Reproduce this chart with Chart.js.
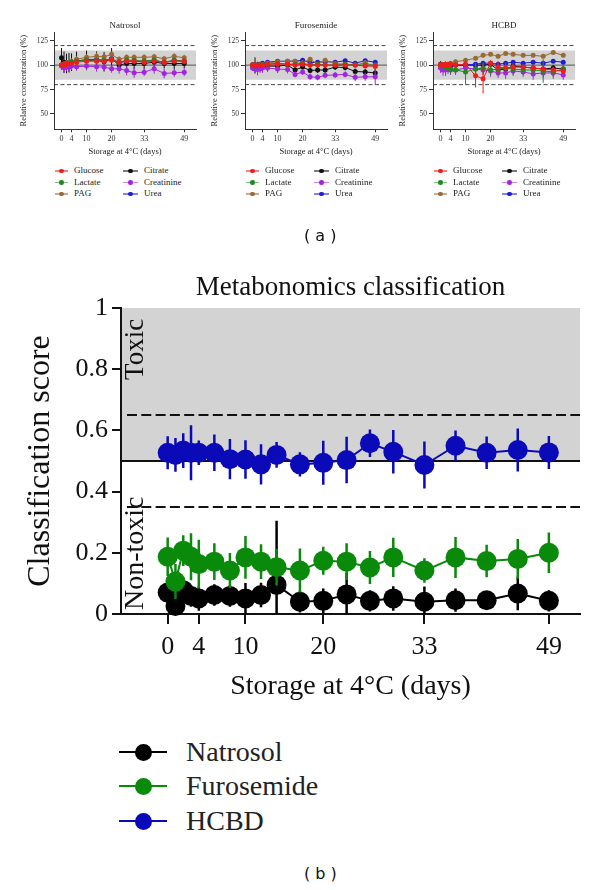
<!DOCTYPE html>
<html><head><meta charset="utf-8">
<script src="https://cdn.jsdelivr.net/npm/chart.js@4.4.1/dist/chart.umd.min.js"></script>
<style>
body{margin:0;background:#fff;width:600px;height:890px;position:relative;overflow:hidden;}
canvas{position:absolute;}
.it{position:absolute;font-family:"Liberation Serif",serif;color:#222;white-space:nowrap;}
.it .ln{position:absolute;}
.it .dt{position:absolute;border-radius:50%;}
.it .tx{position:absolute;}
.cap{position:absolute;font-family:"DejaVu Sans",sans-serif;font-size:16px;color:#111;white-space:pre;}
</style></head><body>
<canvas id="p0" width="200" height="160" style="left:0px;top:0px"></canvas>
<canvas id="p1" width="200" height="160" style="left:191px;top:0px"></canvas>
<canvas id="p2" width="200" height="160" style="left:379px;top:0px"></canvas>
<canvas id="cb" width="600" height="445" style="left:0px;top:265px"></canvas>
<div id="legends"></div>
<div class="cap" style="left:304px;top:226px">( a )</div>
<div class="cap" style="left:304px;top:864px">( b )</div>
<script>
// ---------- data: bottom panel ----------
const bottomDays = [0,1,2,3,4,6,8,10,12,14,17,20,23,26,29,33,37,41,45,49];
const tickDays = [0,4,10,20,33,49];
const scoreTicks = [0,0.2,0.4,0.6,0.8,1];
const groups = ['Natrosol','Furosemide','HCBD'];
const natrosolScore = [0.07,0.026,0.078,0.059,0.051,0.062,0.059,0.051,0.062,0.095,0.04,0.043,0.064,0.043,0.051,0.04,0.045,0.045,0.067,0.043];
const natrosolErr   = [0.035,0.03,0.035,0.035,0.04,0.035,0.035,0.05,0.04,0.21,0.035,0.04,0.07,0.035,0.04,0.05,0.038,0.03,0.055,0.035];
const furosemideScore = [0.187,0.106,0.207,0.187,0.163,0.171,0.142,0.185,0.171,0.153,0.142,0.174,0.171,0.152,0.185,0.142,0.185,0.173,0.18,0.2];
const furosemideErr   = [0.063,0.057,0.05,0.077,0.08,0.06,0.057,0.07,0.057,0.06,0.072,0.046,0.06,0.054,0.064,0.04,0.067,0.053,0.065,0.066];
const hcbdScore = [0.527,0.52,0.534,0.527,0.527,0.527,0.506,0.505,0.489,0.52,0.489,0.494,0.503,0.558,0.53,0.487,0.55,0.527,0.536,0.528];
const hcbdErr   = [0.054,0.055,0.057,0.09,0.04,0.06,0.066,0.063,0.066,0.042,0.04,0.072,0.076,0.045,0.071,0.077,0.05,0.053,0.07,0.054];

// ---------- data: top panels (relative concentration, %) ----------
const topDays = [0,1,2,3,4,6,10,14,17,20,23,26,29,33,37,41,45,49];
const concTicks = [50,75,100,125];
const metabolites = ['Glucose','Lactate','PAG','Citrate','Creatinine','Urea'];

const natGlucose    = [100,101,101,102,102,103,104,104,104,105,103,104,104,103,104,103,104,104];
const natLactate    = [100,101,102,102,103,104,105,105,105,106,103,105,105,104,105,103,105,104];
const natPAG        = [100,101,102,103,104,106,108,109,108.5,111,106,108,108,108,108.5,106.5,109,107.5];
const natCitrate    = [107.5,103,101.7,102.4,103,104.8,104.8,105,103.4,106.5,100,101.7,101.7,101.7,103,101.7,101.7,101.7];
const natCreatinine = [99,97.3,98,98,99,98.3,99,98.3,98,96.2,96.2,94.5,92.1,92.8,96.2,91.5,92.1,92.8];
const natUrea       = [100,100.7,101.5,102,103,104,105.8,105.8,105,106.5,102.4,104,104,104,105,102.4,105,104];
const natGlucoseErr    = [2,3,3,2,3,3,2,3,3,2,3,2,3,3,2,3,2,3];
const natLactateErr    = [2,3,2,3,3,2,3,3,2,3,3,3,2,3,3,2,3,3];
const natPAGErr        = [2,3,3,3,3,3,3,4,3,3,3,3,3,3,3,3,3,3];
const natCitrateErr    = [10,11,10,10,9,9,10,9,10,11,6,7,6,6,6,5,6,5];
const natCreatinineErr = [4,5,4,5,4,4,4,5,4,4,5,5,5,4,5,5,4,4];
const natUreaErr       = [2,2,3,3,3,3,3,3,3,3,3,3,3,3,3,3,3,3];

const furGlucose    = [100,100,100,100,100,101,101,101,100,101,100,100,100,100,100,100,99,99];
const furLactate    = [100,99,100,100,101,101,102,101,101,102,100,101,100,100,101,100,100,100];
const furPAG        = [100,100,100,100,100.5,102,103.5,104,104,102.5,106,101,105,101.5,101,100,102.5,98.5];
const furCitrate    = [100,100,99.5,99,99,99,99,100,95,98,94.5,95,95,98,97.5,93.5,93,92];
const furCreatinine = [97,96,95.5,96,97,97,96,95.5,90.5,93,88,87.5,89.5,90,90.5,87.5,88,88];
const furUrea       = [100,100,100,101,102,103,104,104,104,105,102.4,103,103.5,103,104.5,102,104.5,103];
const furGlucoseErr    = [2,2,2,2,2,2,2,2,2,2,2,2,2,2,2,2,2,2];
const furLactateErr    = [2,3,2,2,2,2,2,2,2,2,2,2,2,2,2,2,2,2];
const furPAGErr        = [2,2,2,2,2,2,2,2,2,2,2,2,2,2,2,2,2,2];
const furCitrateErr    = [3,8,4,3,3,3,3,3,3,3,3,3,3,3,3,3,3,5];
const furCreatinineErr = [3,5,6,4,5,4,4,4,3,3,3,3,3,3,3,4,4,8];
const furUreaErr       = [2,2,2,2,2,2,2,2,2,2,2,2,2,2,2,2,2,2];

const hcbGlucose    = [100,100,101,100,101,100,101,89,86,102,98,97,98,98,97,96,95,94];
const hcbLactate    = [100,99,98,97,96,95,93,96,97,95,96,97,96,95,95,94,93,96];
const hcbPAG        = [100,100,100,101,102,103.5,105,107,110,111,109,112,111,110,110,109,113,110];
const hcbCitrate    = [101,99,100,99,99,100,100,100,100,101,95,96,99,98,97,96,97,96];
const hcbCreatinine = [97,95,95,96,95,95,97,96,95,94,92,92,94,93,91,92,92,90];
const hcbUrea       = [100,98,99,99,100,100,100,101,102,102,101,102,103,102,103,102,104,103];
const hcbGlucoseErr    = [3,3,3,3,3,3,3,12,15,3,6,4,3,3,3,3,3,3];
const hcbLactateErr    = [3,4,4,4,5,4,13,5,6,5,6,5,6,5,6,12,5,4];
const hcbPAGErr        = [2,2,2,2,2,2,2,2,2,2,2,2,2,2,2,2,2,2];
const hcbCitrateErr    = [3,3,3,3,3,3,3,3,3,3,4,4,3,4,3,3,3,3];
const hcbCreatinineErr = [5,6,6,5,5,5,5,6,5,6,5,6,5,5,6,5,6,5];
const hcbUreaErr       = [2,2,2,2,2,2,2,2,2,2,2,2,2,2,2,2,2,2];

const panels = [
  {id:'p0', title:'Natrosol',   vals:[natGlucose,natLactate,natPAG,natCitrate,natCreatinine,natUrea], errs:[natGlucoseErr,natLactateErr,natPAGErr,natCitrateErr,natCreatinineErr,natUreaErr]},
  {id:'p1', title:'Furosemide', vals:[furGlucose,furLactate,furPAG,furCitrate,furCreatinine,furUrea], errs:[furGlucoseErr,furLactateErr,furPAGErr,furCitrateErr,furCreatinineErr,furUreaErr]},
  {id:'p2', title:'HCBD',       vals:[hcbGlucose,hcbLactate,hcbPAG,hcbCitrate,hcbCreatinine,hcbUrea], errs:[hcbGlucoseErr,hcbLactateErr,hcbPAGErr,hcbCitrateErr,hcbCreatinineErr,hcbUreaErr]}
];

// ---------- styles ----------
const SERIF = '"Liberation Serif", "Times New Roman", serif';
const metColors = ['#ee1c1c','#1f8a1f','#9a6a34','#111111','#a324e0','#1f1fd2'];
const groupColors = ['#000000','#0a8a0a','#0a0ab8'];

// ---------- plugin: bands, reference lines, labels, error bars ----------
const decor = {
  id:'decor',
  beforeDraw(chart, args, o){
    const {ctx, chartArea:a, scales:{y}} = chart;
    ctx.save();
    (o.bands||[]).forEach(b=>{
      const y1=y.getPixelForValue(b.to), y2=y.getPixelForValue(b.from);
      ctx.fillStyle=b.color; ctx.fillRect(a.left,y1,a.right-a.left,y2-y1);
    });
    (o.lines||[]).forEach(l=>{
      const py=y.getPixelForValue(l.value);
      ctx.beginPath(); ctx.setLineDash(l.dash||[]); ctx.strokeStyle=l.color; ctx.lineWidth=l.width;
      ctx.moveTo(a.left+(l.inset||0),py); ctx.lineTo(a.right,py); ctx.stroke();
    });
    ctx.setLineDash([]);
    (o.texts||[]).forEach(t=>{
      const py=y.getPixelForValue(t.value);
      ctx.save(); ctx.translate(a.left+t.dx,py); ctx.rotate(-Math.PI/2);
      ctx.font=t.font; ctx.fillStyle=t.color; ctx.textAlign='left'; ctx.textBaseline='alphabetic';
      ctx.fillText(t.text,0,0); ctx.restore();
    });
    ctx.restore();
  },
  beforeDatasetDraw(chart, args, o){
    const ds = chart.data.datasets[args.index];
    if(!ds.errors) return;
    const {ctx, chartArea:a, scales:{x,y}} = chart;
    ctx.save();
    ctx.beginPath(); ctx.rect(a.left,a.top,a.right-a.left,a.bottom-a.top); ctx.clip();
    ctx.strokeStyle=ds.borderColor; ctx.lineWidth=o.errWidth||1;
    ctx.beginPath();
    ds.data.forEach((p,i)=>{
      const e=ds.errors[i], px=x.getPixelForValue(p.x);
      ctx.moveTo(px,y.getPixelForValue(p.y-e)); ctx.lineTo(px,y.getPixelForValue(p.y+e));
    });
    ctx.stroke(); ctx.restore();
  }
};

function series(label, days, vals, errs, color, r, lw){
  return {label, data:days.map((d,i)=>({x:d,y:vals[i]})), errors:errs,
    borderColor:color, backgroundColor:color, pointBackgroundColor:color, pointBorderColor:color,
    pointRadius:r, pointBorderWidth:0, borderWidth:lw, clip:false, tension:0, fill:false};
}

// ---------- top panels ----------
const drawOrder = [0,1,4,2,5,3]; // first drawn on top
panels.forEach(p=>{
  new Chart(document.getElementById(p.id), {
    type:'line',
    data:{datasets: drawOrder.map(k=>series(metabolites[k], topDays, p.vals[k], p.errs[k], metColors[k], 2.5, 1))},
    options:{
      animation:false, responsive:false, events:[],
      layout:{padding:0},
      plugins:{
        legend:{display:false}, tooltip:{enabled:false},
        title:{display:true, text:p.title, fullSize:false, color:'#222', font:{family:SERIF,size:9,weight:'normal'}, padding:{top:20.5,bottom:0.7}},
        decor:{
          errWidth:1,
          bands:[{from:85,to:115,color:'#d3d3d3'}],
          lines:[{value:120,color:'#444',width:1,dash:[4,2.5]},{value:80,color:'#444',width:1,dash:[4,2.5]},{value:100,color:'#555',width:1}]
        }
      },
      scales:{
        x:{type:'linear', min:-3, max:53.7,
          afterBuildTicks:s=>{s.ticks=tickDays.map(v=>({value:v}));},
          afterFit:s=>{s.height=30.7;},
          ticks:{autoSkip:false, maxRotation:0, padding:1.5, color:'#333', font:{family:SERIF,size:8}, callback:v=>String(v)},
          grid:{drawOnChartArea:false, tickLength:3, color:'#333', lineWidth:1},
          border:{color:'#333', width:1},
          title:{display:true, text:'Storage at 4°C (days)', color:'#222', font:{family:SERIF,size:8.5}, padding:{top:0,bottom:3}}
        },
        y:{min:34.3, max:133.9,
          afterBuildTicks:s=>{s.ticks=concTicks.map(v=>({value:v}));},
          afterFit:s=>{s.width=54;},
          ticks:{autoSkip:false, padding:2, color:'#333', font:{family:SERIF,size:7.5}, callback:v=>String(v)},
          grid:{drawOnChartArea:false, tickLength:4, color:'#333', lineWidth:1},
          border:{color:'#333', width:1},
          title:{display:true, text:'Relative concentration (%)', color:'#222', font:{family:SERIF,size:8.5}, padding:{top:19,bottom:0}}
        }
      }
    },
    plugins:[decor]
  });
});

// ---------- bottom panel ----------
const scoreVals = [natrosolScore, furosemideScore, hcbdScore];
const scoreErrs = [natrosolErr, furosemideErr, hcbdErr];
new Chart(document.getElementById('cb'), {
  type:'line',
  data:{datasets:[2,1,0].map(k=>series(groups[k], bottomDays, scoreVals[k], scoreErrs[k], groupColors[k], 10, 2))},
  options:{
    animation:false, responsive:false, events:[],
    layout:{padding:{left:0,right:20,top:0,bottom:0}},
    plugins:{
      legend:{display:false}, tooltip:{enabled:false},
      title:{display:true, text:'Metabonomics classification', fullSize:false, color:'#111', font:{family:SERIF,size:27,weight:'normal'}, padding:{top:7,bottom:3.6}},
      decor:{
        errWidth:2.5,
        bands:[{from:0.5,to:1,color:'#d3d3d3'}],
        lines:[{value:0.65,color:'#111',width:2,dash:[10,4.3],inset:6},{value:0.35,color:'#111',width:2,dash:[10,4.3],inset:6},{value:0.5,color:'#111',width:2}],
        texts:[{text:'Toxic',value:0.765,dx:22,font:'27px '+SERIF,color:'#111'},{text:'Non-toxic',value:0.013,dx:22,font:'28px '+SERIF,color:'#111'}]
      }
    },
    scales:{
      x:{type:'linear', min:-6, max:53,
        afterBuildTicks:s=>{s.ticks=tickDays.map(v=>({value:v}));},
        afterFit:s=>{s.height=96;},
        ticks:{autoSkip:false, maxRotation:0, padding:8, color:'#111', font:{family:SERIF,size:26}, callback:v=>String(v)},
        grid:{drawOnChartArea:false, tickLength:10, color:'#111', lineWidth:2},
        border:{color:'#111', width:2},
        title:{display:true, text:'Storage at 4°C (days)', color:'#111', font:{family:SERIF,size:28}, padding:{top:0,bottom:7}}
      },
      y:{min:0, max:1,
        afterBuildTicks:s=>{s.ticks=scoreTicks.map(v=>({value:v}));},
        afterFit:s=>{s.width=121;},
        ticks:{autoSkip:false, padding:4, color:'#111', font:{family:SERIF,size:26}, callback:v=>String(v)},
        grid:{drawOnChartArea:false, tickLength:9, color:'#111', lineWidth:2},
        border:{color:'#111', width:2},
        title:{display:true, text:'Classification score', color:'#111', font:{family:SERIF,size:32}, padding:{top:21,bottom:0}}
      }
    }
  },
  plugins:[decor]
});

// ---------- legends (HTML) ----------
const L = document.getElementById('legends');
function item(x, y, lineW, dotR, lw, textDx, size, color, text, alpha){
  const d=document.createElement('div'); d.className='it';
  d.style.left=x+'px'; d.style.top=y+'px';
  d.innerHTML=`<div class="ln" style="left:0;top:${-lw/2}px;width:${lineW}px;height:${lw}px;background:${color};opacity:${alpha}"></div>`+
    `<div class="dt" style="left:${lineW/2-dotR}px;top:${-dotR}px;width:${2*dotR}px;height:${2*dotR}px;background:${color}"></div>`+
    `<div class="tx" style="left:${textDx}px;top:${-size*0.62}px;font-size:${size}px;line-height:1.2">${text}</div>`;
  L.appendChild(d);
}
const axisX = [54,245,433];
const topRows = [171,182.5,194];
axisX.forEach(ax=>{
  metabolites.forEach((m,k)=>{
    const col=Math.floor(k/3), row=k%3;
    const x0 = ax + (col===0 ? 1 : 69);
    item(x0, topRows[row], col===0?13:15, 2.3, 1.5, col===0?19:21, 9, metColors[k], m, 0.55);
  });
});
const botRows = [752,786,821];
groups.forEach((g,k)=>{
  item(119, botRows[k], 48, 8.5, 2, 67, 28, groupColors[k], g, 1);
});
</script>
</body></html>
